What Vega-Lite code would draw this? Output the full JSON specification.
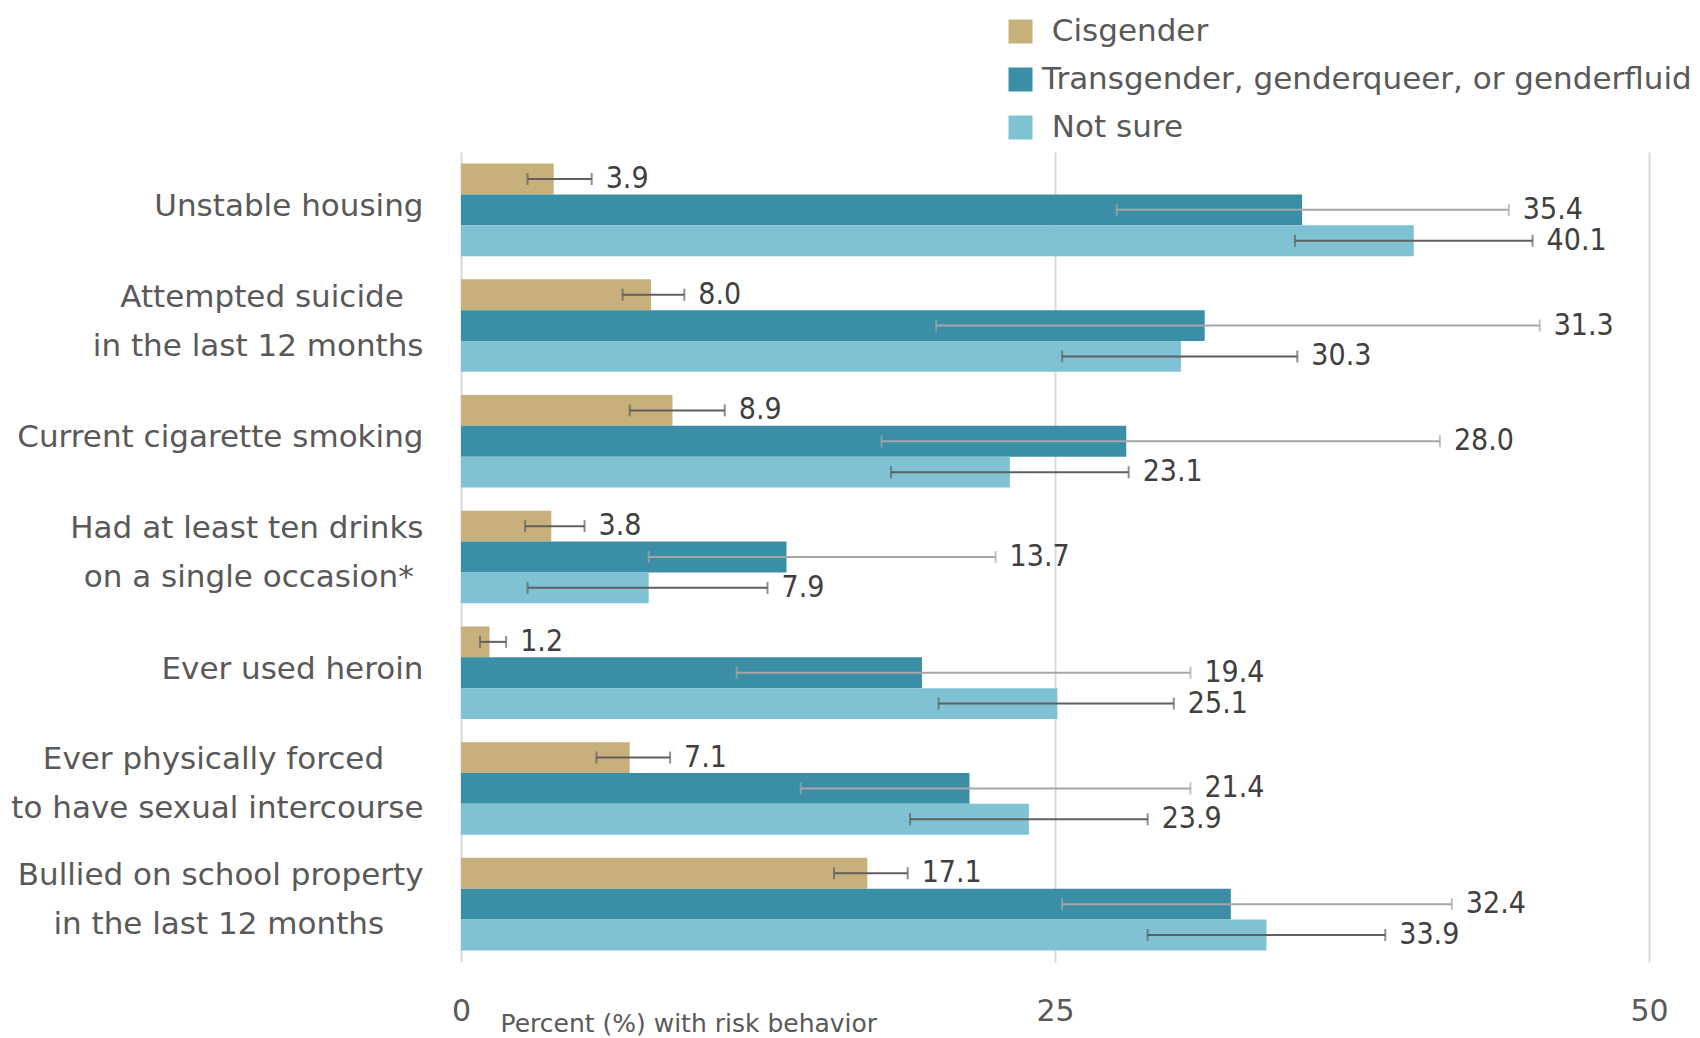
{
  "$schema": "https://vega.github.io/schema/vega-lite/v6.json",
  "width": 1188,
  "height": 810,
  "autosize": {"type": "none"},
  "padding": {"left": 461, "top": 152, "right": 51, "bottom": 76},
  "background": "white",
  "config": {"view": {"stroke": null}, "font": "DejaVu Sans"},
  "data": {
    "values": [
      {"risk": "Unstable housing", "gender": "Cisgender", "value": 3.9, "lo": 2.8, "hi": 5.5},
      {"risk": "Unstable housing", "gender": "Transgender, genderqueer, or genderfluid", "value": 35.4, "lo": 27.6, "hi": 44.1},
      {"risk": "Unstable housing", "gender": "Not sure", "value": 40.1, "lo": 35.1, "hi": 45.1},
      {"risk": "Attempted suicide in the last 12 months", "gender": "Cisgender", "value": 8.0, "lo": 6.8, "hi": 9.4},
      {"risk": "Attempted suicide in the last 12 months", "gender": "Transgender, genderqueer, or genderfluid", "value": 31.3, "lo": 20.0, "hi": 45.4},
      {"risk": "Attempted suicide in the last 12 months", "gender": "Not sure", "value": 30.3, "lo": 25.3, "hi": 35.2},
      {"risk": "Current cigarette smoking", "gender": "Cisgender", "value": 8.9, "lo": 7.1, "hi": 11.1},
      {"risk": "Current cigarette smoking", "gender": "Transgender, genderqueer, or genderfluid", "value": 28.0, "lo": 17.7, "hi": 41.2},
      {"risk": "Current cigarette smoking", "gender": "Not sure", "value": 23.1, "lo": 18.1, "hi": 28.1},
      {"risk": "Had at least ten drinks on a single occasion*", "gender": "Cisgender", "value": 3.8, "lo": 2.7, "hi": 5.2},
      {"risk": "Had at least ten drinks on a single occasion*", "gender": "Transgender, genderqueer, or genderfluid", "value": 13.7, "lo": 7.9, "hi": 22.5},
      {"risk": "Had at least ten drinks on a single occasion*", "gender": "Not sure", "value": 7.9, "lo": 2.8, "hi": 12.9},
      {"risk": "Ever used heroin", "gender": "Cisgender", "value": 1.2, "lo": 0.8, "hi": 1.9},
      {"risk": "Ever used heroin", "gender": "Transgender, genderqueer, or genderfluid", "value": 19.4, "lo": 11.6, "hi": 30.7},
      {"risk": "Ever used heroin", "gender": "Not sure", "value": 25.1, "lo": 20.1, "hi": 30.0},
      {"risk": "Ever physically forced to have sexual intercourse", "gender": "Cisgender", "value": 7.1, "lo": 5.7, "hi": 8.8},
      {"risk": "Ever physically forced to have sexual intercourse", "gender": "Transgender, genderqueer, or genderfluid", "value": 21.4, "lo": 14.3, "hi": 30.7},
      {"risk": "Ever physically forced to have sexual intercourse", "gender": "Not sure", "value": 23.9, "lo": 18.9, "hi": 28.9},
      {"risk": "Bullied on school property in the last 12 months", "gender": "Cisgender", "value": 17.1, "lo": 15.7, "hi": 18.8},
      {"risk": "Bullied on school property in the last 12 months", "gender": "Transgender, genderqueer, or genderfluid", "value": 32.4, "lo": 25.3, "hi": 41.7},
      {"risk": "Bullied on school property in the last 12 months", "gender": "Not sure", "value": 33.9, "lo": 28.9, "hi": 38.9}
    ]
  },
  "encoding": {
    "y": {
      "field": "risk",
      "type": "nominal",
      "sort": ["Unstable housing", "Attempted suicide in the last 12 months", "Current cigarette smoking", "Had at least ten drinks on a single occasion*", "Ever used heroin", "Ever physically forced to have sexual intercourse", "Bullied on school property in the last 12 months"],
      "scale": {"paddingInner": 0.2, "paddingOuter": 0.1},
      "title": null,
      "axis": {
        "domain": false,
        "ticks": false,
        "labelFontSize": 31,
        "labelFont": "DejaVu Sans",
        "labelColor": "#595959",
        "labelLineHeight": 49,
        "labelPadding": 38,
        "labelOffset": -3,
        "labelLimit": 600,
        "labelBaseline": {"condition": {"test": "datum.value === 'Unstable housing' || datum.value === 'Current cigarette smoking' || datum.value === 'Ever used heroin'", "value": "middle"}, "value": "line-bottom"},
        "labelExpr": "datum.value === 'Attempted suicide in the last 12 months' ? ['Attempted suicide\u00a0\u00a0\u200b', 'in the last 12 months'] : datum.value === 'Had at least ten drinks on a single occasion*' ? ['Had at least ten drinks', 'on a single occasion*\u00a0\u200b'] : datum.value === 'Ever physically forced to have sexual intercourse' ? ['Ever physically forced\u00a0\u00a0\u00a0\u00a0\u200b', 'to have sexual intercourse'] : datum.value === 'Bullied on school property in the last 12 months' ? ['Bullied on school property', 'in the last 12 months\u00a0\u00a0\u00a0\u00a0\u200b'] : datum.value"
      }
    },
    "yOffset": {
      "field": "gender",
      "type": "nominal",
      "sort": ["Cisgender", "Transgender, genderqueer, or genderfluid", "Not sure"],
      "scale": {"paddingInner": 0, "paddingOuter": 0}
    }
  },
  "layer": [
    {
      "mark": {"type": "bar"},
      "encoding": {
        "x": {
          "field": "value",
          "type": "quantitative",
          "title": "Percent (%) with risk behavior",
          "scale": {"domain": [0, 50], "nice": false},
          "axis": {
            "values": [0, 25, 50],
            "domain": false,
            "ticks": false,
            "grid": true,
            "gridColor": "#d9d9d9",
            "gridWidth": 2,
            "labelFontSize": 30,
            "labelFont": "DejaVu Sans",
            "labelColor": "#595959",
            "labelPadding": 34,
            "labelFlush": false,
            "titleFontSize": 25,
            "titleFont": "DejaVu Sans",
            "titleFontWeight": "normal",
            "titleColor": "#595959",
            "titleAlign": "left",
            "titleAnchor": "start",
            "titleBaseline": "alphabetic",
            "titleX": 39,
            "titleY": 69
          }
        },
        "color": {
          "field": "gender",
          "type": "nominal",
          "sort": ["Cisgender", "Transgender, genderqueer, or genderfluid", "Not sure"],
          "scale": {
            "domain": ["Cisgender", "Transgender, genderqueer, or genderfluid", "Not sure"],
            "range": ["#c7b07b", "#3a8fa7", "#80c2d4"]
          },
          "legend": {
            "title": null,
            "orient": "none",
            "legendX": 544,
            "legendY": -136,
            "symbolType": "square",
            "symbolSize": 576,
            "symbolStrokeWidth": 0,
            "labelFontSize": 31,
            "labelFont": "DejaVu Sans",
            "labelColor": "#595959",
            "rowPadding": 16,
            "labelOffset": 6,
            "labelLimit": 800,
            "labelExpr": "datum.value === 'Transgender, genderqueer, or genderfluid' ? datum.value : '\u200b\u00a0' + datum.value"
          }
        }
      }
    },
    {
      "mark": {"type": "rule", "strokeWidth": 2},
      "encoding": {
        "x": {"field": "lo", "type": "quantitative", "title": "Percent (%) with risk behavior"},
        "x2": {"field": "hi"},
        "color": {"condition": {"test": "datum.gender === 'Transgender, genderqueer, or genderfluid'", "value": "#a6a6a6"}, "value": "#5f5f5f"}
      }
    },
    {
      "mark": {"type": "tick", "thickness": 2, "size": 12},
      "encoding": {
        "x": {"field": "lo", "type": "quantitative", "title": "Percent (%) with risk behavior"},
        "color": {"condition": {"test": "datum.gender === 'Transgender, genderqueer, or genderfluid'", "value": "#a6a6a6"}, "value": "#5f5f5f"}
      }
    },
    {
      "mark": {"type": "tick", "thickness": 2, "size": 12},
      "encoding": {
        "x": {"field": "hi", "type": "quantitative", "title": "Percent (%) with risk behavior"},
        "color": {"condition": {"test": "datum.gender === 'Transgender, genderqueer, or genderfluid'", "value": "#a6a6a6"}, "value": "#5f5f5f"}
      }
    },
    {
      "mark": {"type": "text", "align": "left", "baseline": "middle", "dx": 14, "font": "DejaVu Sans Condensed", "fontSize": 30, "color": "#404040"},
      "encoding": {
        "x": {"field": "hi", "type": "quantitative", "title": "Percent (%) with risk behavior"},
        "text": {"field": "value", "type": "quantitative", "format": ".1f"}
      }
    }
  ]
}
